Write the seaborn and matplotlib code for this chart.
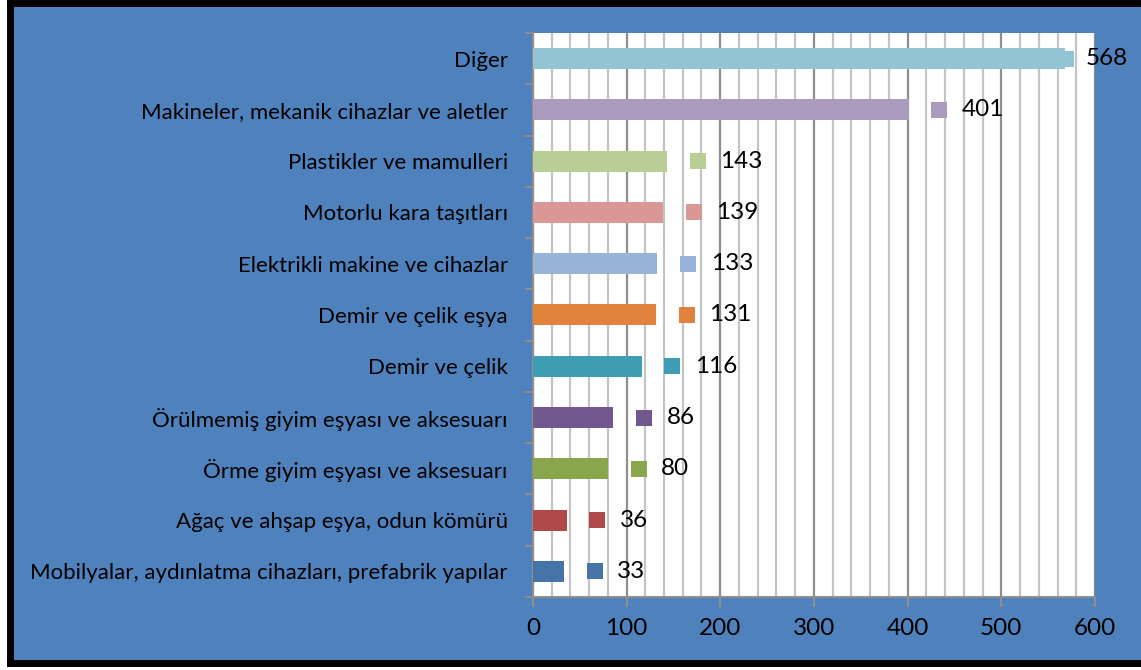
import pandas as pd
import seaborn as sns
import matplotlib.pyplot as plt
from matplotlib.patches import Rectangle
from matplotlib.lines import Line2D
from matplotlib.ticker import MultipleLocator, FixedLocator

# --- data ---
categories = [
    "Diğer",
    "Makineler, mekanik cihazlar ve aletler",
    "Plastikler ve mamulleri",
    "Motorlu kara taşıtları",
    "Elektrikli makine ve cihazlar",
    "Demir ve çelik eşya",
    "Demir ve çelik",
    "Örülmemiş giyim eşyası ve aksesuarı",
    "Örme giyim eşyası ve aksesuarı",
    "Ağaç ve ahşap eşya, odun kömürü",
    "Mobilyalar, aydınlatma cihazları, prefabrik yapılar",
]
values = [568, 401, 143, 139, 133, 131, 116, 86, 80, 36, 33]
colors = [
    "#93C4D4", "#A99ABE", "#B9CE96", "#D99795", "#97B4D8", "#E0833D",
    "#3F9DB4", "#71598F", "#8AA64D", "#B04A48", "#4674A8",
]
x_ticks = [0, 100, 200, 300, 400, 500, 600]

df = pd.DataFrame({"cat": categories, "val": values})
palette = dict(zip(categories, colors))

BG = "#4F81BD"
sns.set_style("white")
plt.rcParams["font.family"] = ["Lato", "DejaVu Sans"]

fig = plt.figure(figsize=(11.41, 6.70), dpi=100)
fig.patch.set_facecolor("white")
# blue frame, black border on left / top / bottom (right side runs off the image)
x0, y0 = 0.009, 0.011
fig.patches.append(Rectangle((x0, y0), 1 - x0, 1 - y0, transform=fig.transFigure,
                             facecolor=BG, edgecolor="none", zorder=-1))
for xs, ys in [([x0, x0], [y0, 1]), ([x0, 1], [0.996, 0.996]), ([x0, 1], [y0, y0])]:
    fig.add_artist(Line2D(xs, ys, transform=fig.transFigure, color="black",
                          linewidth=5, solid_capstyle="projecting"))

ax = fig.add_axes([0.467, 0.109, 0.4927, 0.8418])
sns.barplot(data=df, x="val", y="cat", hue="cat", palette=palette, dodge=False,
            legend=False, width=0.41, saturation=1, linewidth=0, edgecolor="none",
            ax=ax, zorder=3)

# little legend-key squares and value labels after each bar
for i, (v, c) in enumerate(zip(values, colors)):
    if v == max(values):
        sq, tx = v + 1, v + 22
    else:
        sq, tx = v + 33, v + 57
    ax.plot(sq, i, marker="s", markersize=11.3, markeredgewidth=0, color=c,
            zorder=4, clip_on=False)
    ax.text(tx, i, str(v), va="center", ha="left", fontsize=17.5, color="black",
            zorder=5, clip_on=False)

ax.set_xlim(0, 600)
ax.set_ylim(len(categories) - 0.5, -0.5)
ax.set_facecolor("white")
ax.set_xticks(x_ticks)
ax.xaxis.set_minor_locator(MultipleLocator(20))
ax.grid(which="minor", axis="x", color="#C4C4C4", linewidth=1.6, zorder=0)
ax.grid(which="major", axis="x", color="#8E8E8E", linewidth=1.6, zorder=0)
ax.set_axisbelow(True)

ax.yaxis.set_minor_locator(FixedLocator([i - 0.5 for i in range(len(categories) + 1)]))
ax.tick_params(axis="y", which="major", length=0, pad=18, labelsize=16)
ax.tick_params(axis="y", which="minor", length=6, width=1.5, color="#8E8E8E", left=True)
ax.tick_params(axis="x", which="major", length=7, width=1.5, color="#8E8E8E", bottom=True,
               pad=8, labelsize=17.5)
ax.tick_params(axis="x", which="minor", length=0)
for lab in ax.get_xticklabels() + ax.get_yticklabels():
    lab.set_color("black")

for side in ["top", "right"]:
    ax.spines[side].set_visible(False)
for side in ["left", "bottom"]:
    ax.spines[side].set_color("#8E8E8E")
    ax.spines[side].set_linewidth(1.5)

ax.set_xlabel("")
ax.set_ylabel("")

fig.savefig("out.png", dpi=100, facecolor=fig.get_facecolor())
